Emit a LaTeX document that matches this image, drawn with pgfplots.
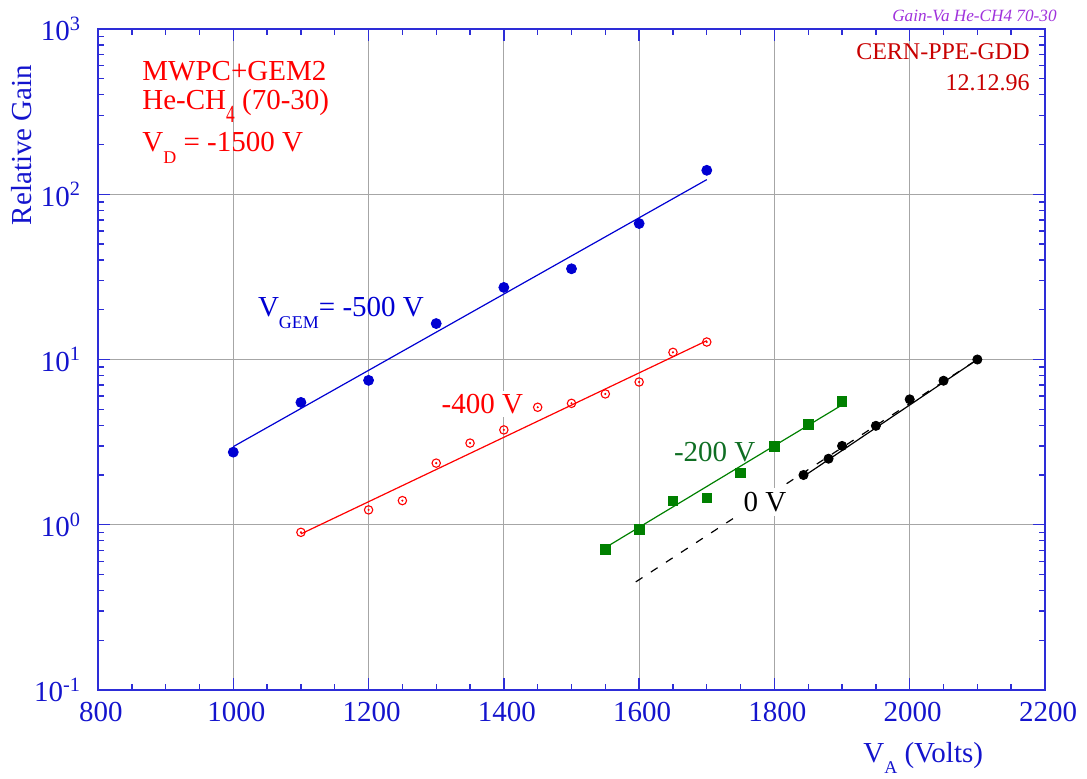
\documentclass[border=0pt]{standalone}
\usepackage{fontspec}
\setmainfont{Liberation Serif}
\usepackage{graphicx}
\usepackage{pgfplots}
\usepackage{pgfplotstable}
\pgfplotsset{compat=1.18}

\definecolor{axblue}{RGB}{45,45,215}
\definecolor{txtblue}{RGB}{20,20,205}
\definecolor{ptblue}{RGB}{0,0,210}
\definecolor{ptred}{RGB}{255,0,0}
\definecolor{ptgreen}{RGB}{0,128,0}
\definecolor{lblgreen}{RGB}{15,110,35}
\definecolor{darkred}{RGB}{200,0,0}
\definecolor{tagpurple}{RGB}{160,50,220}

% lowered, reduced subscripts in the style of the plot labels
\newcommand{\lo}[1]{\raisebox{-0.4em}{\scalebox{0.62}{#1}}}
\newcommand{\lotall}[1]{\raisebox{-0.42em}{\scalebox{0.6}[0.85]{#1}}}
\newcommand{\lblfont}{\fontsize{14.5}{16}\selectfont}

% V_GEM = -500 V
\pgfplotstableread{
x y
1000 2.75
1100 5.5
1200 7.48
1300 16.5
1400 27.3
1500 35.4
1600 66.5
1700 139.6
}\gemfive
% V_GEM = -400 V
\pgfplotstableread{
x y
1100 0.90
1200 1.23
1250 1.40
1300 2.36
1350 3.12
1400 3.75
1450 5.14
1500 5.43
1550 6.19
1600 7.31
1650 11.05
1700 12.76
}\gemfour
% V_GEM = -200 V
\pgfplotstableread{
x y
1550 0.707
1600 0.94
1650 1.395
1700 1.454
1750 2.06
1800 2.99
1850 4.06
1900 5.58
}\gemtwo
% V_GEM = 0 V
\pgfplotstableread{
x y
1843 2.0
1880 2.51
1900 3.0
1950 3.97
2000 5.74
2050 7.44
2100 10.0
}\gemzero

\begin{document}
\begin{tikzpicture}
\useasboundingbox (-49pt,-44pt) rectangle (494.5pt,345pt);
\begin{axis}[
  scale only axis, width=473.5pt, height=330.5pt,
  at={(0,0)}, anchor=south west,
  xmin=800, xmax=2200, ymin=0.1, ymax=1000, ymode=log,
  xtick={800,1000,...,2200}, minor x tick num=3,
  ytick={0.1,1,10,100,1000},
  yticklabels={{10\textsuperscript{-1}},{10\textsuperscript{0}},{10\textsuperscript{1}},{10\textsuperscript{2}},{10\textsuperscript{3}}},
  grid=major, major grid style={black!35, line width=0.5pt},
  axis line style={axblue, line width=1pt},
  every tick/.style={axblue, line width=0.7pt},
  major tick length=6pt, minor tick length=3.2pt,
  tick align=inside,
  ticklabel style={font=\lblfont, text=txtblue},
  xticklabel style={yshift=-2.5pt, xshift=1.5pt},
  yticklabel style={xshift=-5pt},
  /pgf/number format/assume math mode=true,
  /pgf/number format/1000 sep={},
  clip=false,
]
% fitted lines
\addplot[ptblue, line width=0.6pt] coordinates {(1000,2.97) (1700,122.6)};
\addplot[ptred, line width=0.6pt] coordinates {(1100,0.88) (1700,13.0)};
\addplot[ptgreen, line width=0.6pt] coordinates {(1550,0.727) (1900,5.31)};
\addplot[black, line width=0.6pt, dash pattern=on 4pt off 5pt] coordinates {(1595,0.451) (2100,10)};
\addplot[black, line width=0.6pt] coordinates {(1843,1.96) (2100,10)};

% measurements
\addplot[only marks, mark=*, mark size=2.5pt, ptblue] table[x=x,y=y] {\gemfive};
\addplot[only marks, mark=o, mark size=2.1pt, ptred, mark options={line width=0.55pt, fill=white}] table[x=x,y=y] {\gemfour};
\addplot[only marks, mark=*, mark size=0.3pt, ptred] table[x=x,y=y] {\gemfour};
\addplot[only marks, mark=square*, mark size=2.4pt, ptgreen] table[x=x,y=y] {\gemtwo};
\addplot[only marks, mark=*, mark size=2.3pt, black] table[x=x,y=y] {\gemzero};

% curve labels
\node[anchor=base west, text=ptblue, font=\lblfont, inner sep=0pt] at (axis cs:1036,18.15) {V\lo{GEM}= -500 V};
\node[anchor=base west, text=ptred, font=\lblfont, inner sep=1.5pt, fill=white] at (axis cs:1303,4.73) {-400 V};
\node[anchor=base west, text=lblgreen, font=\lblfont, inner sep=0pt] at (axis cs:1651,2.42) {-200 V};
\node[anchor=base west, text=black, font=\lblfont, inner sep=2pt, fill=white] at (axis cs:1748,1.21) {0 V};

% header text
\node[anchor=base west, text=ptred, font=\lblfont, inner sep=0pt] at (rel axis cs:0.0465,0.9228) {MWPC+GEM2};
\node[anchor=base west, text=ptred, font=\lblfont, inner sep=0pt] at (rel axis cs:0.0465,0.8775) {He-CH\lotall{4}\ (70-30)};
\node[anchor=base west, text=ptred, font=\lblfont, inner sep=0pt] at (rel axis cs:0.0465,0.814) {V\lo{D} = -1500 V};
\node[anchor=base east, text=darkred, font=\fontsize{12}{14}\selectfont, inner sep=0pt] at (rel axis cs:0.9842,0.9531) {CERN-PPE-GDD};
\node[anchor=base east, text=darkred, font=\fontsize{12}{14}\selectfont, inner sep=0pt] at (rel axis cs:0.9842,0.9077) {12.12.96};
\node[anchor=base east, text=tagpurple, font=\fontsize{8.6}{10}\selectfont\itshape, inner sep=0pt] at (rel axis cs:1.0127,1.0106) {Gain-Va He-CH4 70-30};

% axis titles
\node[rotate=90, anchor=center, text=txtblue, font=\lblfont, inner sep=0pt] at ([xshift=-38pt]rel axis cs:0,0.8245) {Relative Gain};
\node[anchor=base west, text=txtblue, font=\lblfont, inner sep=0pt] at ([yshift=-36pt]rel axis cs:0.8078,0) {V\lo{A} (Volts)};
\end{axis}
\end{tikzpicture}
\end{document}
